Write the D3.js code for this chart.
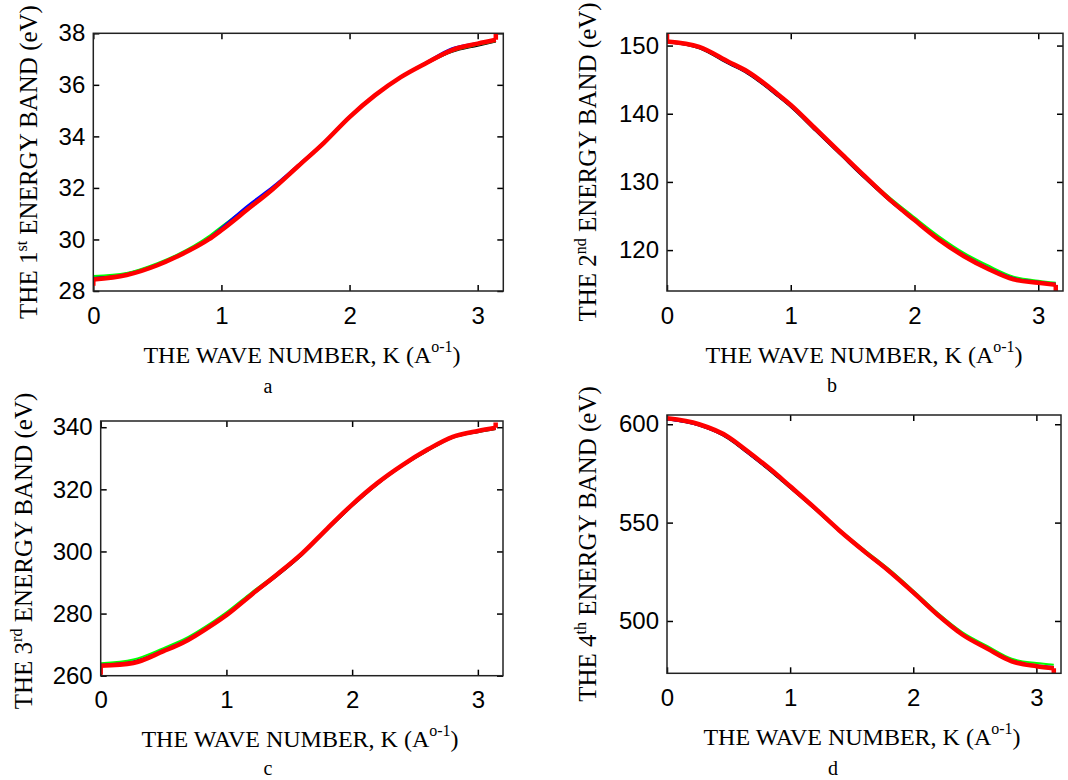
<!DOCTYPE html>
<meta charset="utf-8">
<head>
<style>
  body { margin: 0; background: #fff; }
  .tick text { font-family: "Liberation Sans", Arial, sans-serif; font-size: 24px; }
  .lab { font-family: "Liberation Serif", "Times New Roman", serif; fill: #000; }
</style>
</head>
<title>Energy bands</title>
<script src="https://d3js.org/d3.v7.min.js"></script>
<div id="chart"></div>
<script>

// wave number K (A^-1), shared by all four bands
var kVals = [0, 0.26, 0.5, 0.65, 0.9, 1.0, 1.2, 1.4, 1.6, 1.8, 2.0, 2.2, 2.4, 2.6, 2.8, 3.0, 3.1416];

// band 1
var redA   = [28.45, 28.62, 29.0, 29.33, 30.0, 30.36, 31.15, 31.95, 32.85, 33.75, 34.75, 35.6, 36.3, 36.85, 37.35, 37.6, 37.75];
var blackA = [28.52, 28.68, 29.05, 29.37, 30.05, 30.42, 31.2, 31.98, 32.82, 33.72, 34.72, 35.58, 36.28, 36.82, 37.28, 37.52, 37.68];
var greenA = [28.58, 28.7, 29.08, 29.4, 30.12, 30.5, 31.25, 32.0, 32.85, 33.75, 34.75, 35.6, 36.3, 36.83, 37.3, 37.55, 37.7];
var blueA  = [28.5, 28.65, 29.03, 29.36, 30.05, 30.45, 31.3, 32.05, 32.9, 33.78, 34.78, 35.62, 36.32, 36.88, 37.42, 37.62, 37.74];
var redEndsA = [28.2, 38.0];

// band 2
var redB   = [150.6, 149.8, 147.6, 146.2, 142.8, 141.3, 137.8, 134.3, 130.8, 127.4, 124.4, 121.5, 119.1, 117.2, 115.7, 115.2, 114.9];
var blackB = [150.5, 149.6, 147.3, 145.9, 142.5, 141.0, 137.5, 134.0, 130.5, 127.2, 124.3, 121.5, 119.2, 117.3, 115.8, 115.3, 115.0];
var greenB = [150.6, 149.7, 147.5, 146.1, 142.7, 141.2, 137.7, 134.3, 130.9, 127.7, 124.8, 122.0, 119.6, 117.7, 116.1, 115.5, 115.2];
var blueB  = [150.5, 149.7, 147.4, 146.0, 142.6, 141.1, 137.6, 134.1, 130.6, 127.3, 124.4, 121.6, 119.3, 117.4, 115.9, 115.35, 115.05];
var redEndsB = [151.8, 114.0];

// band 3
var redC   = [263.2, 264.1, 267.9, 270.5, 276.7, 279.5, 286.1, 292.5, 299.3, 307.3, 315.1, 322.0, 327.8, 332.8, 336.9, 338.8, 339.8];
var blackC = [263.6, 264.6, 268.2, 270.8, 276.6, 279.3, 285.8, 292.0, 298.8, 306.8, 314.6, 321.6, 327.5, 332.4, 336.6, 338.4, 339.4];
var greenC = [264.0, 265.2, 268.9, 271.5, 277.6, 280.4, 286.8, 292.9, 299.5, 307.2, 315.0, 321.8, 327.6, 332.5, 336.7, 338.5, 339.5];
var blueC  = [263.5, 264.5, 268.3, 270.9, 277.0, 279.8, 286.3, 292.4, 299.0, 307.0, 314.8, 321.8, 327.6, 332.6, 336.8, 338.6, 339.6];
var redEndsC = [260.3, 341.5];

// band 4
var redD   = [603.0, 600.0, 593.5, 586.5, 574.0, 568.5, 557.5, 546.0, 535.5, 525.5, 514.5, 503.0, 493.0, 486.0, 479.5, 477.0, 476.0];
var blackD = [602.5, 599.3, 592.6, 585.5, 573.0, 567.6, 556.8, 545.5, 535.0, 525.0, 514.0, 502.5, 492.8, 486.0, 479.8, 477.3, 476.4];
var greenD = [602.8, 599.7, 593.2, 586.3, 573.8, 568.5, 557.5, 546.5, 536.3, 526.5, 515.5, 504.0, 494.2, 487.3, 480.8, 478.6, 477.8];
var blueD  = [602.6, 599.5, 592.9, 585.8, 573.4, 568.0, 557.0, 545.9, 535.4, 525.3, 514.3, 502.8, 493.0, 486.2, 479.9, 477.5, 476.6];
var redEndsD = [603.6, 473.4];

var xTicks = [0, 1, 2, 3];
var xDomain = [0, 3.2];

var panels = [
  {ord: "1", sup: "st", letter: "a", yDom: [28, 38], yTicks: [28, 30, 32, 34, 36, 38],
   black: blackA, green: greenA, blue: blueA, red: redA, ends: redEndsA,
   box: [93.3, 33.3, 503.3, 291], yLabX: 37, yLabC: 162, xLabY: 362.7, xLabC: 302, let: [268, 393]},
  {ord: "2", sup: "nd", letter: "b", yDom: [114, 151.8], yTicks: [120, 130, 140, 150],
   black: blackB, green: greenB, blue: blueB, red: redB, ends: redEndsB,
   box: [667, 33.3, 1063, 291], yLabX: 596, yLabC: 162, xLabY: 362.7, xLabC: 864, let: [832, 392]},
  {ord: "3", sup: "rd", letter: "c", yDom: [260, 342], yTicks: [260, 280, 300, 320, 340],
   black: blackC, green: greenC, blue: blueC, red: redC, ends: redEndsC,
   box: [100.7, 421, 503, 675.7], yLabX: 32, yLabC: 551, xLabY: 746.7, xLabC: 300, let: [268, 775]},
  {ord: "4", sup: "th", letter: "d", yDom: [473.4, 604.7], yTicks: [500, 550, 600],
   black: blackD, green: greenD, blue: blueD, red: redD, ends: redEndsD,
   box: [667, 415, 1061, 673.3], yLabX: 596, yLabC: 544, xLabY: 745, xLabC: 862, let: [833, 775]}
];

var svg = d3.select("#chart").append("svg")
  .attr("width", 1068)
  .attr("height", 780);

panels.forEach(function(p) {
  var x0 = p.box[0], y0 = p.box[1], x1 = p.box[2], y1 = p.box[3];
  var x = d3.scaleLinear().domain(xDomain).range([x0, x1]);
  var y = d3.scaleLinear().domain(p.yDom).range([y1, y0]);

  var g = svg.append("g");

  // axes, ticks pointing inward like matlab
  g.append("g").attr("transform", "translate(0," + y1 + ")")
    .call(d3.axisBottom(x).tickValues(xTicks).tickSizeInner(-6).tickSizeOuter(0).tickPadding(15.5).tickFormat(d3.format("d")));
  g.append("g").attr("transform", "translate(" + x0 + ",0)")
    .call(d3.axisLeft(y).tickValues(p.yTicks).tickSizeInner(-6).tickSizeOuter(0).tickPadding(8).tickFormat(d3.format("d")));
  g.append("g").attr("transform", "translate(0," + y0 + ")")
    .call(d3.axisTop(x).tickValues(xTicks).tickSizeInner(-6).tickSizeOuter(0).tickFormat(""));
  g.append("g").attr("transform", "translate(" + x1 + ",0)")
    .call(d3.axisRight(y).tickValues(p.yTicks).tickSizeInner(-6).tickSizeOuter(0).tickFormat(""));
  g.selectAll(".domain").remove();
  g.selectAll(".tick line").attr("stroke", "#000").attr("stroke-width", 1.5);
  g.selectAll(".tick text").attr("fill", "#000");

  var line = d3.line()
    .x(function(d, i) { return x(kVals[i]); })
    .y(function(d) { return y(d); })
    .curve(d3.curveMonotoneX);

  var clipId = "clip" + p.letter;
  g.append("clipPath").attr("id", clipId).append("rect")
    .attr("x", x0).attr("y", y0 - 1).attr("width", x1 - x0).attr("height", y1 - y0 + 2);
  var plot = g.append("g").attr("clip-path", "url(#" + clipId + ")");

  plot.append("path").datum(p.black).attr("d", line)
    .attr("fill", "none").attr("stroke", "#000").attr("stroke-width", 2);
  plot.append("path").datum(p.green).attr("d", line)
    .attr("fill", "none").attr("stroke", "#00ff00").attr("stroke-width", 2);
  plot.append("path").datum(p.blue).attr("d", line)
    .attr("fill", "none").attr("stroke", "#0000ff").attr("stroke-width", 2);
  plot.append("path").datum(p.red).attr("d", line)
    .attr("fill", "none").attr("stroke", "#ff0000").attr("stroke-width", 4.5);

  // short vertical pieces of the red curve at both ends
  var seg = d3.line().x(function(d) { return x(d[0]); }).y(function(d) { return y(d[1]); });
  var n = kVals.length - 1;
  plot.append("path").datum([[kVals[0], p.ends[0]], [kVals[0], p.red[0]]]).attr("d", seg)
    .attr("fill", "none").attr("stroke", "#ff0000").attr("stroke-width", 4.5);
  plot.append("path").datum([[kVals[n], p.red[n]], [kVals[n], p.ends[1]]]).attr("d", seg)
    .attr("fill", "none").attr("stroke", "#ff0000").attr("stroke-width", 4.5);

  // box
  g.append("rect").attr("x", x0).attr("y", y0).attr("width", x1 - x0).attr("height", y1 - y0)
    .attr("fill", "none").attr("stroke", "#222").attr("stroke-width", 1.5);

  // y label
  var yl = g.append("text").attr("class", "lab")
    .attr("transform", "translate(" + p.yLabX + "," + p.yLabC + ") rotate(-90)")
    .attr("text-anchor", "middle")
    .style("font-family", "'Liberation Serif', 'Times New Roman', serif")
    .style("font-size", "25px");
  yl.append("tspan").text("THE " + p.ord);
  yl.append("tspan").attr("dy", -10).style("font-size", "16px").text(p.sup);
  yl.append("tspan").attr("dy", 10).text(" ENERGY BAND (eV)");

  // x label
  var xl = g.append("text").attr("class", "lab")
    .attr("x", p.xLabC).attr("y", p.xLabY)
    .attr("text-anchor", "middle")
    .style("font-family", "'Liberation Serif', 'Times New Roman', serif")
    .style("font-size", "24px");
  xl.append("tspan").text("THE WAVE NUMBER, K (A");
  xl.append("tspan").attr("dy", -11).style("font-size", "16px").text("o-1");
  xl.append("tspan").attr("dy", 11).text(")");

  g.append("text").attr("class", "lab")
    .attr("x", p.let[0]).attr("y", p.let[1])
    .attr("text-anchor", "middle")
    .style("font-family", "'Liberation Serif', 'Times New Roman', serif")
    .style("font-size", "20px")
    .text(p.letter);
});

</script>
